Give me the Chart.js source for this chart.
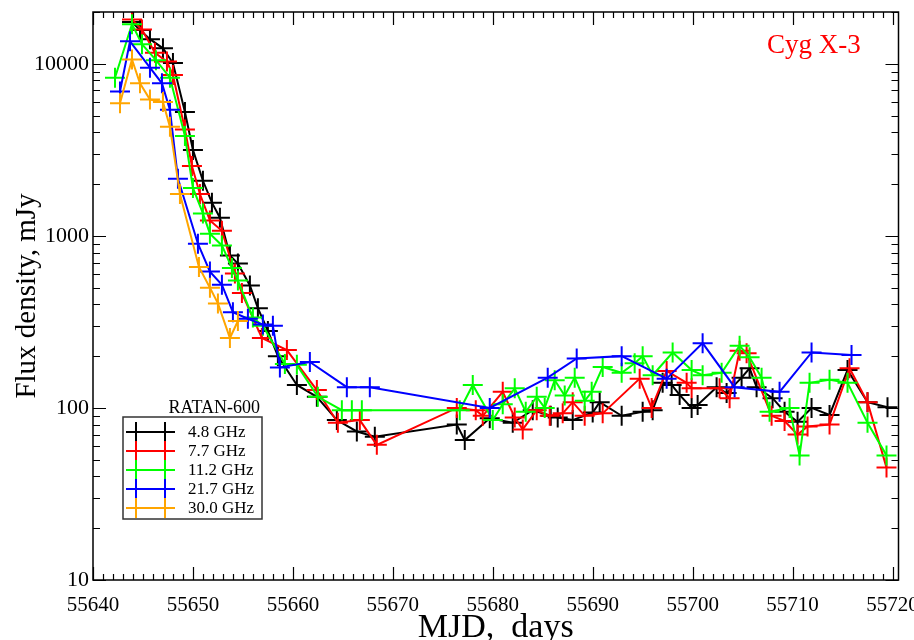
<!DOCTYPE html>
<html lang="en">
<head>
    <meta charset="UTF-8">
    <title>Cyg X-3 - RATAN-600 light curves</title>
    <script src="https://cdn.jsdelivr.net/npm/chart.js"></script>
    <style>
        body {
            margin: 0;
            background-color: #ffffff;
        }

        .wrap {
            position: relative;
            width: 914px;
            height: 640px;
        }
    </style>
</head>
<body>

    <div class="wrap">
        <canvas id="fluxChart"></canvas>
    </div>

    <script>
        // Series: MJD and flux density (mJy)
        const seriesNames = ['4.8 GHz', '7.7 GHz', '11.2 GHz', '21.7 GHz', '30.0 GHz'];
        const seriesColors = ['#000000', '#ff0000', '#00ff00', '#0000ff', '#ffa500'];

        const days48 = [55643.9, 55644.7, 55645.7, 55647.0, 55648.0, 55649.2, 55650.0, 55651.0, 55651.9, 55652.7,
            55653.7, 55654.5, 55655.7, 55656.5, 55657.5, 55658.5, 55660.4, 55662.4, 55664.4, 55666.4,
            55668.2, 55676.4, 55677.2, 55679.7, 55682.0, 55684.0, 55685.8, 55686.5, 55688.0, 55690.0,
            55690.7, 55692.9, 55695.0, 55696.0, 55697.0, 55697.9, 55698.7, 55699.9, 55700.5, 55702.4,
            55703.4, 55704.9, 55705.7, 55706.4, 55708.0, 55709.2, 55710.5, 55711.9, 55713.7, 55715.5,
            55717.5, 55719.5];
        const flux48 = [17500, 15700, 13900, 12300, 10100, 5250, 3160, 2090, 1560, 1275,
            770, 690, 515, 380, 280, 200, 136, 116, 85, 73,
            68, 80, 65, 87, 82, 97, 90, 88, 85, 94,
            108, 90, 95, 97, 140, 136, 119, 100, 104, 132,
            122, 150, 170, 132, 114, 95, 83, 100, 91, 166,
            108, 101];

        const days77 = [55643.9, 55644.9, 55646.2, 55647.4, 55648.0, 55649.2, 55649.9, 55650.7, 55651.7, 55652.9,
            55654.2, 55654.9, 55656.9, 55659.4, 55662.4, 55664.5, 55666.7, 55668.4, 55676.4, 55678.3,
            55679.0, 55681.0, 55682.2, 55683.0, 55684.4, 55685.7, 55687.0, 55688.0, 55689.2, 55691.0,
            55694.7, 55695.9, 55697.4, 55699.4, 55699.9, 55702.7, 55703.7, 55704.7, 55705.4, 55707.9,
            55709.2, 55710.5, 55711.5, 55713.7, 55715.7, 55717.5, 55719.4];
        const flux77 = [18100, 15800, 11600, 10300, 8600, 4150, 2550, 1750, 1230, 1070,
            605, 465, 255, 217, 127, 82, 85, 61, 100, 97,
            90, 124, 88, 75, 97, 90, 93, 108, 90, 93,
            148, 100, 164, 140, 130, 130, 114, 215, 208, 90,
            84, 70, 78, 80, 170, 108, 45];

        const days112 = [55642.2, 55643.9, 55644.9, 55646.3, 55647.7, 55649.2, 55650.0, 55651.0, 55651.7, 55652.9,
            55653.9, 55654.5, 55656.0, 55657.0, 55659.2, 55660.4, 55662.5, 55664.9, 55665.9, 55666.9,
            55676.7, 55678.0, 55680.0, 55681.0, 55682.2, 55683.3, 55684.4, 55685.2, 55686.2, 55687.2,
            55688.2, 55689.2, 55689.9, 55691.0, 55692.9, 55694.2, 55695.0, 55696.0, 55698.0, 55699.9,
            55701.0, 55702.9, 55704.7, 55705.7, 55706.9, 55707.7, 55709.7, 55710.7, 55711.7, 55713.7,
            55715.5, 55717.5, 55719.4];
        const flux112 = [8300, 17000, 13000, 10500, 8300, 3800, 1900, 1350, 1030, 880,
            650, 550, 335, 300, 180, 178, 116, 97, 97, 97,
            97, 136, 85, 105, 130, 95, 116, 100, 145, 118,
            150, 110, 124, 173, 160, 182, 200, 155, 210, 166,
            155, 160, 230, 197, 150, 95, 100, 53, 140, 146,
            140, 82, 53];

        const days217 = [55642.7, 55643.7, 55645.7, 55646.9, 55647.7, 55648.5, 55650.5, 55651.7, 55652.9, 55654.0,
            55655.5, 55657.0, 55658.0, 55658.7, 55661.7, 55665.4, 55667.7, 55679.7, 55685.5, 55688.4,
            55692.9, 55697.4, 55701.0, 55704.2, 55708.7, 55711.9, 55715.9];
        const flux217 = [6900, 13500, 9500, 7700, 5400, 2150, 900, 620, 520, 360,
            330, 305, 300, 172, 185, 132, 132, 100, 150, 194,
            200, 148, 238, 132, 124, 210, 203];

        const days300 = [55642.7, 55643.9, 55644.7, 55645.7, 55647.0, 55647.7, 55648.7, 55650.6, 55651.7, 55652.5,
            55653.7, 55654.5];
        const flux300 = [5900, 10600, 7700, 6200, 6000, 4300, 1750, 660, 500, 405,
            255, 320];

        const seriesDays = [days48, days77, days112, days217, days300];
        const seriesFlux = [flux48, flux77, flux112, flux217, flux300];

        // Axis ticks
        const xTicks = [55640, 55650, 55660, 55670, 55680, 55690, 55700, 55710, 55720];
        const yTicks = [10, 100, 1000, 10000];

        const serif = '"Liberation Serif", "Times New Roman", serif';

        const datasets = seriesNames.map(function(name, i) {
            return {
                label: name,
                data: seriesDays[i].map(function(d, k) { return { x: d, y: seriesFlux[i][k] }; }),
                borderColor: seriesColors[i],
                backgroundColor: seriesColors[i],
                borderWidth: 2,
                pointStyle: 'cross',
                pointRadius: 10,
                pointBorderWidth: 2,
                pointHoverRadius: 10,
                tension: 0,
                fill: false,
                order: seriesNames.length - i
            };
        });

        // no extra room for overhanging tick labels, keep the plot box fixed
        function noPad(s) {
            s.paddingLeft = 0;
            s.paddingRight = 0;
            s.paddingTop = 0;
            s.paddingBottom = 0;
        }

        // Inward ticks on all four sides + frame, legend and source name
        const frameTicks = {
            id: 'frameTicks',
            afterDraw(chart) {
                const ctx = chart.ctx;
                const a = chart.chartArea;
                const xs = chart.scales.x;
                const ys = chart.scales.y;
                ctx.save();
                ctx.strokeStyle = '#000';
                ctx.lineWidth = 1.5;
                ctx.strokeRect(a.left, a.top, a.right - a.left, a.bottom - a.top);
                ctx.lineWidth = 1.2;
                ctx.beginPath();
                for (let d = 55640; d <= 55720; d++) {
                    const px = Math.round(xs.getPixelForValue(d)) + 0.5;
                    const len = d % 10 === 0 ? 13 : 6;
                    ctx.moveTo(px, a.bottom); ctx.lineTo(px, a.bottom - len);
                    ctx.moveTo(px, a.top); ctx.lineTo(px, a.top + len);
                }
                for (let dec = 10; dec <= 10000; dec *= 10) {
                    for (let m = 1; m <= 9; m++) {
                        const v = dec * m;
                        if (v > ys.max) continue;
                        const py = Math.round(ys.getPixelForValue(v)) + 0.5;
                        const len = m === 1 ? 13 : 7;
                        ctx.moveTo(a.left, py); ctx.lineTo(a.left + len, py);
                        ctx.moveTo(a.right, py); ctx.lineTo(a.right - len, py);
                    }
                }
                ctx.stroke();

                // Source name
                ctx.fillStyle = '#ff0000';
                ctx.font = '27px ' + serif;
                ctx.textAlign = 'left';
                ctx.textBaseline = 'alphabetic';
                ctx.fillText('Cyg X-3', 767, 53);

                // Legend
                ctx.fillStyle = '#000';
                ctx.font = '18px ' + serif;
                ctx.textAlign = 'right';
                ctx.fillText('RATAN-600', 260, 413);
                ctx.strokeStyle = '#333';
                ctx.lineWidth = 1.5;
                ctx.strokeRect(123, 417, 139, 102);
                ctx.font = '17px ' + serif;
                ctx.textAlign = 'left';
                ctx.textBaseline = 'middle';
                seriesNames.forEach(function(name, i) {
                    const ry = 432 + i * 19;
                    ctx.strokeStyle = seriesColors[i];
                    ctx.lineWidth = 2;
                    ctx.beginPath();
                    ctx.moveTo(130, ry); ctx.lineTo(173, ry);
                    [136, 165].forEach(function(cx) {
                        ctx.moveTo(cx - 10, ry); ctx.lineTo(cx + 10, ry);
                        ctx.moveTo(cx, ry - 10); ctx.lineTo(cx, ry + 10);
                    });
                    ctx.stroke();
                    ctx.fillStyle = '#000';
                    ctx.fillText(name, 188, ry + 1);
                });
                ctx.restore();
            }
        };

        new Chart(document.getElementById('fluxChart'), {
            type: 'line',
            data: { datasets: datasets },
            options: {
                responsive: true,
                maintainAspectRatio: false,
                animation: false,
                layout: { padding: { top: 10, right: 15.5, left: 0, bottom: 0 } },
                plugins: {
                    legend: { display: false },
                    tooltip: { enabled: false }
                },
                scales: {
                    x: {
                        type: 'linear',
                        min: 55640,
                        max: 55720.6,
                        afterFit: function(s) { s.height = 60; noPad(s); },
                        afterBuildTicks: function(s) { s.ticks = xTicks.map(function(v) { return { value: v }; }); },
                        grid: { display: false, drawTicks: false },
                        border: { display: false },
                        ticks: {
                            color: '#000',
                            padding: 13,
                            maxRotation: 0,
                            font: { family: serif, size: 21 },
                            callback: function(v) { return String(v); }
                        },
                        title: {
                            display: true,
                            text: 'MJD,  days',
                            color: '#000',
                            padding: { top: 0, bottom: 0 },
                            font: { family: serif, size: 34, lineHeight: 0.7 }
                        }
                    },
                    y: {
                        type: 'logarithmic',
                        min: 10,
                        max: 20000,
                        afterFit: function(s) { s.width = 93; noPad(s); },
                        afterBuildTicks: function(s) { s.ticks = yTicks.map(function(v) { return { value: v }; }); },
                        grid: { display: false, drawTicks: false },
                        border: { display: false },
                        ticks: {
                            color: '#000',
                            padding: 4,
                            font: { family: serif, size: 22 },
                            callback: function(v) { return String(v); }
                        },
                        title: {
                            display: true,
                            text: 'Flux density, mJy',
                            color: '#000',
                            padding: { top: 10, bottom: 0 },
                            font: { family: serif, size: 29 }
                        }
                    }
                }
            },
            plugins: [frameTicks]
        });
    </script>

</body>
</html>
